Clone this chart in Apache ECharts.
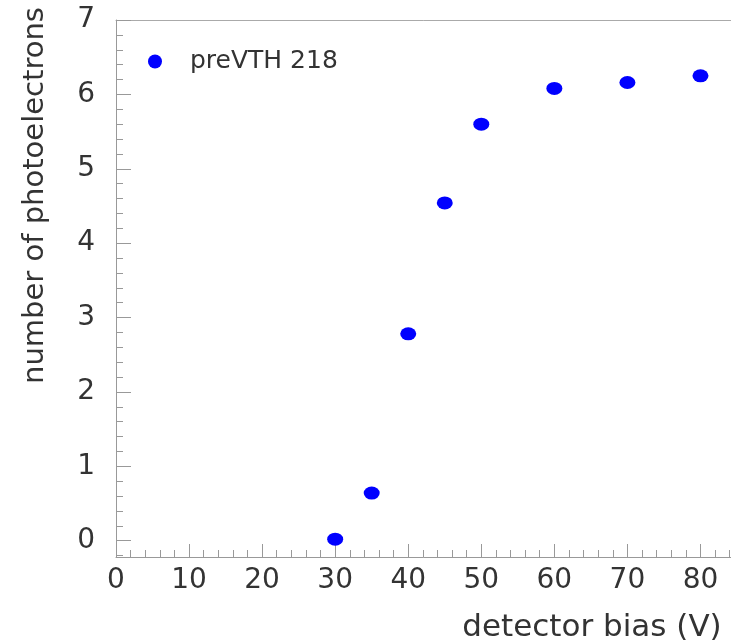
<!DOCTYPE html>
<html>
<head>
<meta charset="utf-8">
<script src="https://cdn.jsdelivr.net/npm/echarts@6/dist/echarts.min.js"></script>
<style>
html,body{margin:0;padding:0;background:#fff;}
#chart{width:731px;height:641px;}
</style>
</head>
<body>
<div id="chart"></div>
<script>
const seriesName = 'preVTH 218';
const biasVolts = [30, 35, 40, 45, 50, 60, 70, 80];
const photoelectrons = [0.02, 0.64, 2.78, 4.54, 5.60, 6.08, 6.16, 6.25];
const xAxisTitle = 'detector bias (V)';
const yAxisTitle = 'number of photoelectrons';

const points = biasVolts.map((v, i) => [v, photoelectrons[i]]);
const font = 'DejaVu Sans';
const grey = '#999';

const chart = echarts.init(document.getElementById('chart'));
chart.setOption({
  animation: false,
  backgroundColor: '#fff',
  grid: {
    left: 116, right: -6, top: 20, bottom: 84,
    containLabel: false, outerBoundsMode: 'none',
    show: false
  },
  legend: {
    left: 143, top: 44,
    itemWidth: 18, itemHeight: 14,
    icon: 'circle',
    data: [seriesName],
    textStyle: { fontFamily: font, fontSize: 25, color: '#333', padding: [0, 0, 0, 21] }
  },
  xAxis: [{
    type: 'value', min: 0, max: 85, splitNumber: 8,
    name: xAxisTitle, nameLocation: 'end', nameGap: -145,
    nameTextStyle: { fontFamily: font, fontSize: 31, color: '#333', align: 'center', verticalAlign: 'top', padding: [55, 0, 0, 0] },
    axisLine: { show: true, onZero: false, lineStyle: { color: grey, width: 1 } },
    axisTick: { show: true, inside: true, length: 13, lineStyle: { color: grey } },
    minorTick: { show: true, splitNumber: 5, length: 7, lineStyle: { color: grey } },
    splitLine: { show: false },
    axisLabel: { fontFamily: font, fontSize: 28, color: '#333', margin: 10, showMaxLabel: false }
  }, {
    type: 'value', min: 0, max: 85, position: 'top',
    axisLine: { show: true, onZero: false, lineStyle: { color: '#aaa', width: 1 } },
    axisTick: { show: false }, axisLabel: { show: false }, splitLine: { show: false }
  }],
  yAxis: {
    type: 'value', min: -0.22, max: 7, splitNumber: 7,
    name: yAxisTitle, nameLocation: 'middle', nameGap: 66, nameRotate: 90,
    nameTextStyle: { fontFamily: font, fontSize: 29, color: '#333', padding: [0, 0, 0, 186] },
    axisLine: { show: true, onZero: false, lineStyle: { color: grey, width: 1 } },
    axisTick: { show: true, inside: true, length: 15, lineStyle: { color: grey } },
    minorTick: { show: true, splitNumber: 5, length: 7, lineStyle: { color: grey } },
    splitLine: { show: false },
    axisLabel: { fontFamily: font, fontSize: 28, color: '#333', margin: 21, showMinLabel: false }
  },
  series: [{
    name: seriesName,
    type: 'scatter',
    data: points,
    symbol: 'circle',
    symbolSize: [16, 13],
    itemStyle: { color: '#0000ff', opacity: 1 }
  }]
});
</script>
</body>
</html>
